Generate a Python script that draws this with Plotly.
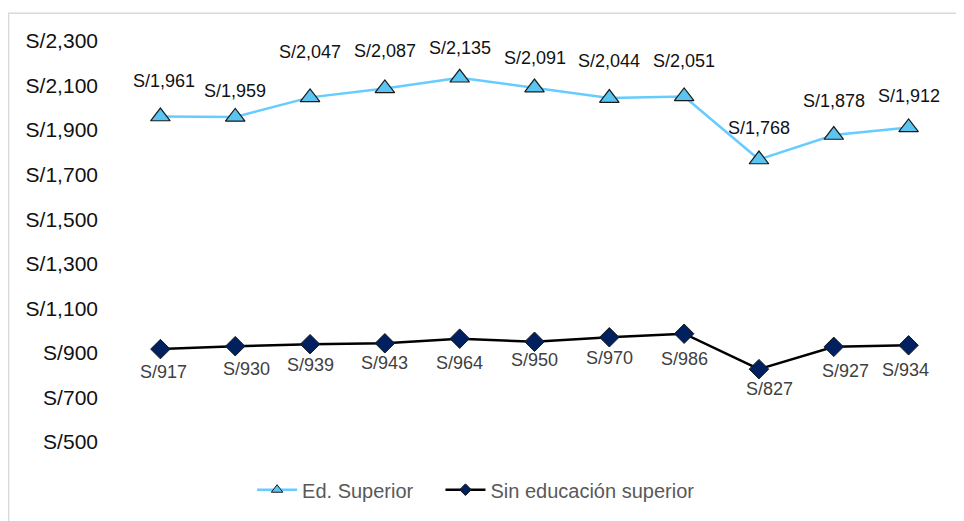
import plotly.graph_objects as go

periods = ["P1", "P2", "P3", "P4", "P5", "P6", "P7", "P8", "P9", "P10", "P11"]
ed_superior = [1961, 1959, 2047, 2087, 2135, 2091, 2044, 2051, 1768, 1878, 1912]
sin_superior = [917, 930, 939, 943, 964, 950, 970, 986, 827, 927, 934]
tick_vals = [500, 700, 900, 1100, 1300, 1500, 1700, 1900, 2100, 2300]
series_names = ["Ed. Superior", "Sin educación superior"]

# label offsets (pixels) - style only
up_dy = [36, 26, 45, 37, 30, 30, 37, 35, 32, 34, 31]
up_dx = [4, 0, 0, 0, 0, 0, 0, 0, 0, 0, 0]
lo_dy = [-23, -23, -21, -20, -24, -18, -21, -25, -20, -24, -25]
lo_dx = [3, 11, 0, 0, 0, 0, 0, 0, 11, 12, -3]

FONT = "Liberation Sans, Arial"
fmt = lambda v: "S/{:,}".format(v)

C_UP_LINE = "#66CCFF"
C_UP_FILL = "#5BC5F2"
C_LO_FILL = "#002060"

fig = go.Figure()
fig.add_trace(go.Scatter(
    x=periods, y=ed_superior, name=series_names[0], mode="lines+markers",
    line=dict(color=C_UP_LINE, width=2.5), showlegend=False,
    marker=dict(symbol="triangle-up", size=17, color=C_UP_FILL,
                line=dict(color="#1a1a1a", width=1.2)),
))
fig.add_trace(go.Scatter(
    x=periods, y=sin_superior, name=series_names[1], mode="lines+markers",
    line=dict(color="#000000", width=2.5), showlegend=False,
    marker=dict(symbol="diamond", size=15, color=C_LO_FILL,
                line=dict(color="#1a1a1a", width=1)),
))
# legend entries with smaller symbols (padding after the first name for spacing)
fig.add_trace(go.Scatter(
    x=[None], y=[None], name=series_names[0] + "\u00a0" * 4, mode="lines+markers",
    line=dict(color=C_UP_LINE, width=2.5),
    marker=dict(symbol="triangle-up", size=10, color=C_UP_FILL,
                line=dict(color="#1a1a1a", width=1)),
))
fig.add_trace(go.Scatter(
    x=[None], y=[None], name=series_names[1], mode="lines+markers",
    line=dict(color="#000000", width=2.5),
    marker=dict(symbol="diamond", size=9, color=C_LO_FILL,
                line=dict(color="#1a1a1a", width=1)),
))

annotations = []
for i, p in enumerate(periods):
    annotations.append(dict(x=p, y=ed_superior[i], text=fmt(ed_superior[i]),
                            showarrow=False, yshift=up_dy[i], xshift=up_dx[i],
                            font=dict(family=FONT, size=18, color="#111111")))
    annotations.append(dict(x=p, y=sin_superior[i], text=fmt(sin_superior[i]),
                            showarrow=False, yshift=lo_dy[i], xshift=lo_dx[i],
                            font=dict(family=FONT, size=18, color="#404040")))

fig.update_layout(
    width=956, height=513,
    margin=dict(l=114.5, r=17.5, t=33, b=77),
    paper_bgcolor="white", plot_bgcolor="white",
    showlegend=True,
    legend=dict(orientation="h", x=0.429, xanchor="center", y=-0.119, yanchor="middle",
                font=dict(family=FONT, size=20, color="#595959"),
                itemwidth=40, tracegroupgap=0),
    annotations=annotations,
    shapes=[dict(type="rect", xref="paper", yref="paper",
                 x0=-0.139, x1=1.06, y0=-0.3, y1=1.0695,
                 line=dict(color="#D9D9D9", width=1.5), layer="below")],
)
fig.update_xaxes(type="category", range=[-0.5, 10.5], showticklabels=False,
                 showgrid=False, zeroline=False, showline=False, ticks="")
fig.update_yaxes(range=[500, 2300], tickvals=tick_vals,
                 ticktext=[fmt(v) for v in tick_vals],
                 showgrid=False, zeroline=False, showline=False,
                 ticklabelstandoff=24,
                 tickfont=dict(family=FONT, size=21, color="#111111"))

fig.write_html("out.html")
